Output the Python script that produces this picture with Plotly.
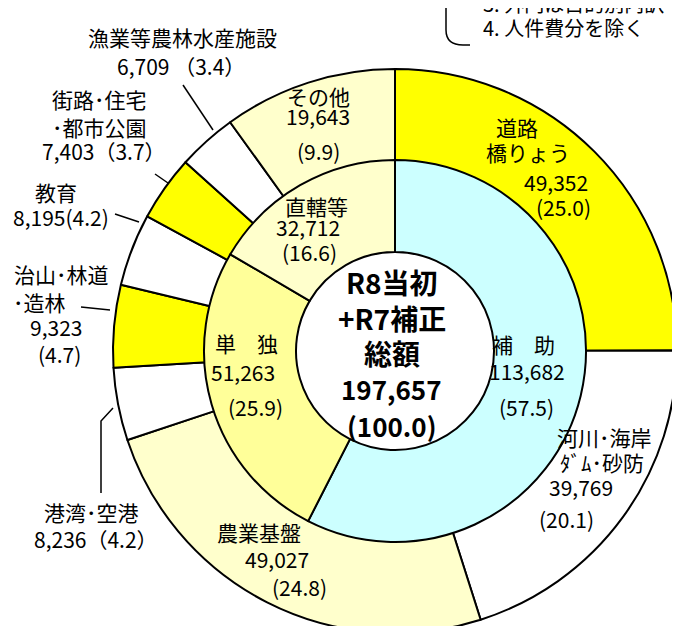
import plotly.graph_objects as go

W, H = 680, 626

# ---------------- data ----------------
outer_names = ["道路\n橋りょう", "河川･海岸\nﾀﾞﾑ･砂防", "農業基盤", "港湾･空港",
               "治山･林道\n･造林", "教育", "街路･住宅\n･都市公園", "漁業等農林水産施設", "その他"]
outer_values = [49352, 39769, 49027, 8236, 9323, 8195, 7403, 6709, 19643]
outer_pcts = [25.0, 20.1, 24.8, 4.2, 4.7, 4.2, 3.7, 3.4, 9.9]
outer_colors = ["#FFFF00", "#FFFFFF", "#FFFFCC", "#FFFFFF", "#FFFF00",
                "#FFFFFF", "#FFFF00", "#FFFFFF", "#FFFFCC"]

inner_names = ["補　助", "単　独", "直轄等"]
inner_values = [113682, 51263, 32712]
inner_pcts = [57.5, 25.9, 16.6]
inner_colors = ["#CCFFFF", "#FFFF99", "#FFFFCC"]

center_title = ["R8当初", "+R7補正", "総額"]
total_pct = 100.0

note_lines = ["3. 外円は目的別内訳", "4. 人件費分を除く"]

FONT = "Noto Sans CJK JP"


def P(x, y):
    return x / W, 1 - y / H


fig = go.Figure()

# outer ring: center (387,343), radius 282
ox0, oy0 = P(105, 626)
ox1, oy1 = P(669, 60)
fig.add_trace(go.Pie(
    labels=[n.replace("\n", "") for n in outer_names], values=outer_values,
    marker=dict(colors=outer_colors, line=dict(color="black", width=2)),
    sort=False, direction="clockwise", rotation=0, hole=0.67,
    textinfo="none", hoverinfo="label+value", showlegend=False,
    domain=dict(x=[ox0, ox1], y=[oy0, oy1]),
))

# inner ring: radius 191, hole radius 99
ix0, iy0 = P(196, 534)
ix1, iy1 = P(578, 152)
fig.add_trace(go.Pie(
    labels=inner_names, values=inner_values,
    marker=dict(colors=inner_colors, line=dict(color="black", width=2)),
    sort=False, direction="clockwise", rotation=0, hole=99 / 191,
    textinfo="none", hoverinfo="label+value", showlegend=False,
    domain=dict(x=[ix0, ix1], y=[iy0, iy1]),
))

annotations = []
FS = 21
DX = -7


def txt(s, x, y, size=FS, bold=False, shift=0.42):
    px, py = P(x + DX, y - shift * size)
    annotations.append(dict(
        text=("<b>%s</b>" % s) if bold else s, x=px, y=py, xref="paper", yref="paper",
        xanchor="center", yanchor="middle", showarrow=False,
        font=dict(family=FONT, size=size, color="black")))


def fmt(v):
    return f"{v:,}"


def pct(p, full=False):
    return f"（{p:.1f}）" if full else f"({p:.1f})"


on = [n.split("\n") for n in outer_names]
ov, op = outer_values, outer_pcts

# 道路
txt(on[0][0], 516, 128)
txt(on[0][1], 527, 153)
txt(fmt(ov[0]), 555, 183)
txt(pct(op[0]), 562, 208)
# 河川
txt(on[1][0], 603, 438)
txt(on[1][1], 601, 463)
txt(fmt(ov[1]), 580, 488)
txt(pct(op[1]), 565, 520)
# 農業基盤
txt(on[2][0], 258, 533)
txt(fmt(ov[2]), 276, 560)
txt(pct(op[2]), 298, 588)
# 港湾
txt(on[3][0], 90, 513)
txt(fmt(ov[3]) + pct(op[3], True), 95, 540)
# 治山
txt(on[4][0], 60, 275)
txt(on[4][1], 38, 303)
txt(fmt(ov[4]), 55, 328)
txt(pct(op[4]), 58, 355)
# 教育
txt(on[5][0], 55, 193)
txt(fmt(ov[5]) + pct(op[5]), 60, 218)
# 街路
txt(on[6][0], 98, 100)
txt(on[6][1], 98, 128)
txt(fmt(ov[6]) + pct(op[6], True), 103, 152)
# 漁業
txt(on[7][0], 182, 38)
txt(fmt(ov[7]) + " " + pct(op[7], True), 180, 67)
# その他
txt(on[8][0], 317, 97)
txt(fmt(ov[8]), 317, 117)
txt(pct(op[8]), 317, 152)

# inner labels
iv, ip = inner_values, inner_pcts
txt(inner_names[0], 522, 345)
txt(fmt(iv[0]), 526, 372)
txt(pct(ip[0]), 525, 408)
txt(inner_names[1], 246, 344)
txt(fmt(iv[1]), 242, 373)
txt(pct(ip[1]), 254, 408)
txt(inner_names[2], 315, 207)
txt(fmt(iv[2]), 307, 228)
txt(pct(ip[2]), 308, 253)

# center
ys = [282, 318, 353]
for s, y in zip(center_title, ys):
    txt(s, 391, y, size=28, bold=True, shift=0.3)
txt(fmt(sum(outer_values)), 390, 390, size=26, bold=True, shift=0.35)
txt(f"({total_pct:.1f})", 390, 427, size=26, bold=True, shift=0.35)

# note
txt(note_lines[0], 572, 4, size=20)
txt(note_lines[1], 562, 28, size=20)


def path(points):
    s = "M %f,%f" % P(*points[0])
    for pt in points[1:]:
        s += " L %f,%f" % P(*pt)
    return s


shapes = []
for pts in [
    [(105, 400), (93, 413), (93, 485)],   # 港湾
    [(73, 299), (102, 302)],              # 治山
    [(107, 206), (131, 214)],             # 教育
    [(147, 166), (160, 175)],             # 街路
    [(175, 77), (205, 122)],              # 漁業
]:
    shapes.append(dict(type="path", path=path(pts), xref="paper", yref="paper",
                       line=dict(color="black", width=1.5)))

# bracket frame of note
a = P(438, -5); b = P(438, 22); c = P(438, 37); d = P(455, 37); e = P(462, 37)
shapes.append(dict(type="path", xref="paper", yref="paper", line=dict(color="black", width=1.5),
                   path=f"M {a[0]},{a[1]} L {b[0]},{b[1]} Q {c[0]},{c[1]} {d[0]},{d[1]} L {e[0]},{e[1]}"))
f1 = P(667, 38); f2 = P(678, 37); f3 = P(683, 30)
shapes.append(dict(type="path", xref="paper", yref="paper", line=dict(color="black", width=1.5),
                   path=f"M {f1[0]},{f1[1]} Q {f2[0]},{f2[1]} {f3[0]},{f3[1]}"))

fig.update_layout(
    width=W, height=H, autosize=False,
    margin=dict(l=0, r=0, t=0, b=0),
    paper_bgcolor="white", plot_bgcolor="white",
    annotations=annotations, shapes=shapes,
    font=dict(family=FONT),
)

fig.write_html("out.html")
